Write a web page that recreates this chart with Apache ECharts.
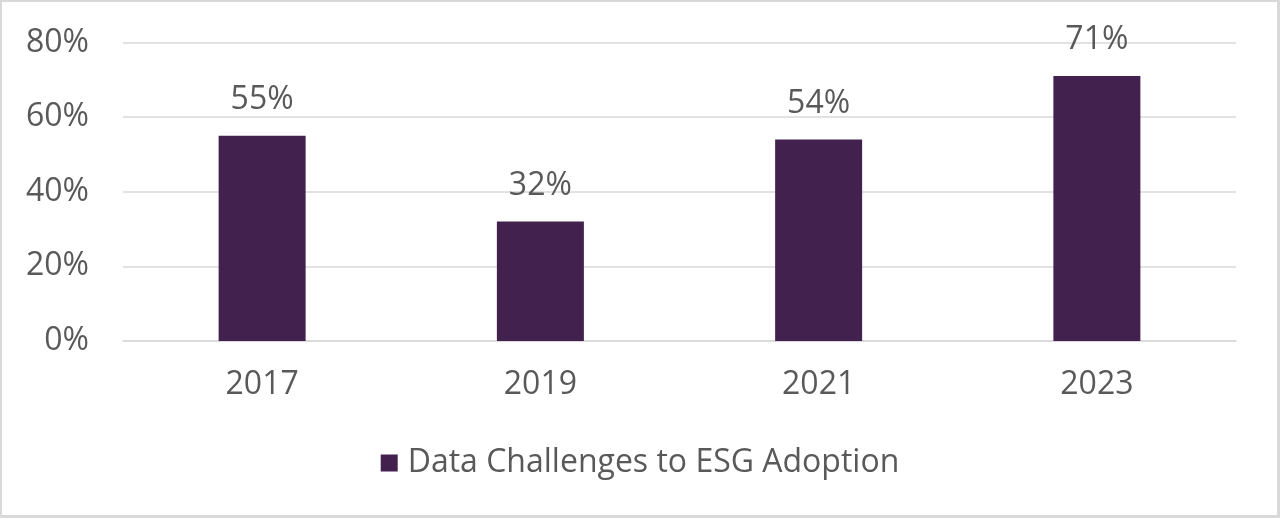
<!DOCTYPE html>
<html>
<head>
<meta charset="utf-8">
<script src="https://cdn.jsdelivr.net/npm/echarts@6/dist/echarts.min.js"></script>
<style>
html,body{margin:0;padding:0;background:#fff;}
#chart{position:absolute;left:0;top:0;width:1280px;height:518px;}
#frame{position:absolute;left:0;top:0;width:1280px;height:518px;box-sizing:border-box;border:3px solid #d9d9d9;border-top-width:2px;border-left-width:2px;pointer-events:none;}
</style>
</head>
<body>
<div id="chart"></div>
<div id="frame"></div>
<script>
const categories = ['2017', '2019', '2021', '2023'];
const values = [55, 32, 54, 71];
const seriesName = 'Data Challenges to ESG Adoption';
const yTicks = [0, 20, 40, 60, 80];

const font = '"Open Sans", "Noto Sans", sans-serif';
const textColor = '#595959';
const fs = 32;
const chart = echarts.init(document.getElementById('chart'), null, {renderer: 'canvas'});
chart.setOption({
  animation: false,
  backgroundColor: '#ffffff',
  textStyle: {fontFamily: font},
  grid: {left: 123, right: 44, top: 42.5, bottom: 177, containLabel: false},
  legend: {
    data: [seriesName],
    left: 'center',
    top: 442,
    itemWidth: 17,
    itemHeight: 17,
    icon: 'rect',
    textStyle: {fontFamily: font, fontSize: fs, color: textColor, padding: [0, 0, 0, 5]}
  },
  xAxis: {
    type: 'category',
    data: categories,
    axisLine: {show: true, lineStyle: {color: '#d9d9d9', width: 1.5}},
    axisTick: {show: false},
    axisLabel: {fontFamily: font, fontSize: fs, color: textColor, margin: 28}
  },
  yAxis: {
    type: 'value',
    min: yTicks[0],
    max: yTicks[yTicks.length - 1],
    interval: 20,
    axisLine: {show: false},
    axisTick: {show: false},
    splitLine: {lineStyle: {color: '#d9d9d9', width: 1.5}},
    axisLabel: {fontFamily: font, fontSize: fs, color: textColor, margin: 34, formatter: v => v + '%'}
  },
  series: [{
    name: seriesName,
    type: 'bar',
    data: values,
    barWidth: 87,
    itemStyle: {color: '#43214F'},
    label: {
      show: true,
      position: 'top',
      distance: 20,
      fontFamily: font,
      fontSize: fs,
      color: textColor,
      formatter: p => p.value + '%'
    }
  }]
});
</script>
</body>
</html>
